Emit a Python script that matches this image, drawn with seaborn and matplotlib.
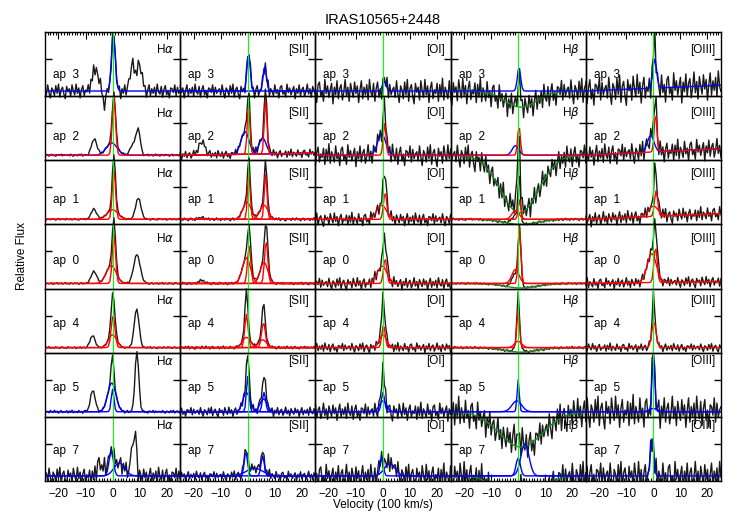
import numpy as np
import matplotlib
matplotlib.use('Agg')
import matplotlib.pyplot as plt
import seaborn as sns
from matplotlib.patches import Rectangle
from matplotlib.ticker import MultipleLocator

apertures = ['ap  3', 'ap  2', 'ap  1', 'ap  0', 'ap  4', 'ap  5', 'ap  7']
line_names = ['H$\\alpha$', '[SII]', '[OI]', 'H$\\beta$', '[OIII]']
velocity = np.arange(-25, 25.01, 0.5)

# fitted components per aperture: (colour, centre, sigma, amplitude), units of 100 km/s
fit_halpha = [
    [('b', 0.3, 0.7, 0.89)],
    [('b', -0.3, 2.0, 0.19), ('r', 0.5, 0.6, 0.92)],
    [('r', 0.0, 2.0, 0.15), ('r', 0.5, 0.6, 0.78)],
    [('r', -0.5, 1.8, 0.28), ('r', 0.5, 0.6, 0.78)],
    [('r', 0.0, 1.5, 0.2), ('r', 0.2, 0.7, 0.5)],
    [('b', -0.3, 1.5, 0.45), ('b', 0.0, 0.5, 0.35)],
    [('b', -0.5, 0.8, 0.39), ('b', 2.5, 2.0, 0.2)],
]
fit_sii = [
    [('b', 0.3, 0.6, 0.6), ('b', 6.3, 0.6, 0.4)],
    [('b', -1.0, 1.5, 0.35), ('b', 5.5, 1.3, 0.25), ('r', 0.3, 0.5, 0.77), ('r', 6.6, 0.5, 0.85)],
    [('r', -0.3, 1.5, 0.27), ('r', 6.0, 1.5, 0.22), ('r', 0.4, 0.5, 0.72), ('r', 6.6, 0.5, 0.72)],
    [('r', -0.5, 1.5, 0.4), ('r', 6.0, 1.4, 0.33), ('r', 0.5, 0.6, 0.58), ('r', 6.8, 0.6, 0.67)],
    [('r', -0.5, 1.5, 0.16), ('r', 5.5, 1.5, 0.12), ('r', -0.5, 0.6, 0.52), ('r', 5.8, 0.7, 0.39)],
    [('b', -0.5, 1.3, 0.3), ('b', 5.8, 1.3, 0.2), ('b', 0.0, 0.5, 0.55), ('b', 6.0, 0.6, 0.3)],
    [('b', 2.5, 3.0, 0.12), ('b', -0.7, 0.6, 0.37), ('b', 5.5, 0.6, 0.31)],
]
fit_oi = [
    [('b', 0.5, 0.7, 0.15)],
    [('b', -0.5, 1.5, 0.33), ('r', 0.6, 0.5, 0.5)],
    [('r', -0.5, 1.8, 0.22), ('r', 0.8, 0.6, 0.42)],
    [('r', -0.3, 1.8, 0.27), ('r', 0.8, 0.6, 0.39)],
    [('r', 0.0, 1.3, 0.2), ('r', 0.2, 0.6, 0.35)],
    [('b', 0.0, 1.3, 0.17), ('b', 0.0, 0.6, 0.3)],
    [('b', -0.5, 0.6, 0.3), ('b', 2.5, 2.0, 0.19)],
]
fit_hbeta = [
    [('g', 1.0, 6.0, -0.25), ('b', 0.3, 0.6, 0.37)],
    [('g', 0.5, 7.0, -0.9), ('b', -1.0, 1.2, 0.15), ('r', 0.3, 0.5, 0.45)],
    [('g', 1.0, 6.0, -0.08), ('r', -1.0, 1.3, 0.14), ('r', 0.5, 0.5, 0.3)],
    [('g', 1.0, 6.0, -0.07), ('r', -1.0, 1.3, 0.22), ('r', 0.5, 0.5, 0.87)],
    [('g', 1.0, 6.0, -0.07), ('r', 0.0, 1.3, 0.1), ('r', 0.0, 0.5, 0.6)],
    [('g', 1.0, 8.0, -0.55), ('b', -0.5, 1.8, 0.17), ('b', 0.0, 0.4, 0.5)],
    [('g', 0.5, 6.0, -0.9), ('b', 0.0, 0.8, 0.28), ('b', 2.5, 1.5, 0.5)],
]
fit_oiii = [
    [('b', 0.5, 0.7, 0.45)],
    [('b', -1.0, 1.2, 0.26), ('r', 0.8, 0.5, 0.6)],
    [('r', 0.0, 1.8, 0.16), ('r', 1.0, 0.6, 0.4)],
    [('r', -0.6, 1.7, 0.45), ('r', 0.8, 0.6, 0.55)],
    [('r', 0.2, 0.8, 0.4)],
    [('b', 0.0, 1.5, 0.05), ('b', 0.0, 0.5, 0.9)],
    [('b', -0.5, 0.6, 0.58)],
]

# features seen in the data but not in the fits: (centre, sigma, amplitude)
extra_halpha = [
    [(-6.3, 1.2, 0.34), (7.2, 0.8, 0.4), (9.8, 1.0, 0.42), (-3.0, 0.6, -0.2)],
    [(-6.8, 1.0, 0.25), (8.0, 1.2, 0.2), (9.6, 0.7, 0.33), (0.5, 0.6, -0.12)],
    [(-6.9, 1.0, 0.16), (9.5, 1.0, 0.33), (0.5, 0.5, 0.08)],
    [(-6.9, 1.0, 0.19), (9.0, 1.2, 0.45)],
    [(-7.4, 0.9, 0.19), (8.9, 0.9, 0.6), (0.0, 0.5, 0.16)],
    [(-7.3, 0.9, 0.33), (9.0, 0.7, 0.94), (0.0, 0.4, 0.1)],
    [(7.2, 0.4, 0.6), (8.5, 0.4, 0.75), (-5.0, 0.5, 0.3), (-3.0, 0.4, 0.25)],
]
extra_sii = [[], [(-17.0, 1.2, 0.2)], [(-17.0, 1.0, 0.03)], [(-17.0, 1.0, 0.05)],
             [(-0.5, 0.4, 0.25), (5.9, 0.4, 0.2)], [(0.0, 0.35, 0.1), (6.0, 0.35, 0.1)], []]
extra_oi = [[], [], [(0.3, 0.4, 0.2)], [(0.3, 0.4, 0.2)], [(0.0, 0.4, 0.3)], [(0.0, 0.4, 0.2)], []]
extra_hbeta = [[], [(0.3, 0.4, 0.8)], [(0.3, 0.35, 0.45)], [], [(0.0, 0.3, 0.25)],
               [(0.0, 0.6, -0.4)], [(1.5, 1.0, 0.3)]]
extra_oiii = [[(0.3, 0.4, 0.3)], [(0.5, 0.4, 0.2)], [(0.5, 0.4, 0.3)], [(0.3, 0.4, 0.1)],
              [(0.0, 0.3, 0.55)], [], []]

# noise amplitude (rows = apertures, cols = lines)
noise_level = [
    [0.12, 0.12, 0.20, 0.22, 0.25],
    [0.02, 0.07, 0.18, 0.20, 0.18],
    [0.015, 0.025, 0.11, 0.02, 0.12],
    [0.015, 0.02, 0.10, 0.015, 0.09],
    [0.015, 0.025, 0.08, 0.02, 0.07],
    [0.025, 0.08, 0.15, 0.25, 0.27],
    [0.15, 0.08, 0.20, 0.25, 0.25],
]
# continuum rise across the window
slope = [
    [0, 0, 0, 0, 0.09],
    [0, 0.03, 0, 0, 0.10],
    [0, 0, 0, 0, 0.09],
    [0, 0, 0, 0, 0.03],
    [0, 0, 0, 0, 0],
    [0, 0, 0, 0, 0],
    [0, 0, 0, 0, 0],
]
noise_pattern = [0.3, -0.5, 0.8, -0.2, -0.9, 0.4, 0.1, -0.6, 0.7, -0.3, 0.9, -0.8, 0.2, 0.5, -0.4,
                 -1.0, 0.6, -0.1, 0.3, -0.7, 0.8, 0.0, -0.5, 0.9, -0.3, 0.4, -0.9, 0.2, 0.7, -0.6,
                 0.1, -0.2, 0.6, -0.8, 0.5, -0.4, 1.0, -0.7, 0.3, -0.1, -0.6, 0.8, -0.3, 0.2, -0.9,
                 0.5, 0.7, -0.4, 0.0, -0.8, 0.9, -0.2, 0.4, -0.5, 0.1, 0.6, -1.0, 0.3, -0.3, 0.8,
                 -0.6, 0.2, 0.5, -0.7, -0.1, 0.9, -0.4, 0.3, -0.8, 0.6, 0.0, -0.5, 0.7, -0.2, 0.4,
                 -0.9, 0.1, 0.8, -0.6, 0.3, -0.3, 0.5, -0.7, 0.9, -0.1, -0.4, 0.6, -0.8, 0.2, 0.7,
                 -0.5, 0.1, -0.9, 0.4, 0.3, -0.2, 0.8, -0.6, 0.5, -0.3, 0.1]

fits = [fit_halpha, fit_sii, fit_oi, fit_hbeta, fit_oiii]
extras = [extra_halpha, extra_sii, extra_oi, extra_hbeta, extra_oiii]
colours = {'b': '#0000ff', 'r': '#ff0000', 'g': '#1e8c1e'}
label_y = [0.33, 0.36, 0.38, 0.43, 0.44, 0.45, 0.47]
name_y = [0.72, 0.73, 0.79, 0.78, 0.81, 0.87, 0.86]


def gauss(x, c, s, a):
    return a * np.exp(-0.5 * ((x - c) / s) ** 2)


sns.set_theme(style='ticks')
plt.rcParams['font.family'] = ['Liberation Sans', 'DejaVu Sans']
plt.rcParams.update({'axes.linewidth': 1.0, 'text.color': 'black', 'axes.edgecolor': 'black',
                     'xtick.color': 'black', 'ytick.color': 'black', 'axes.labelcolor': 'black'})

L, R, B, T = 0.0602, 0.9652, 0.0803, 0.9388
fig, axes = plt.subplots(7, 5, sharex=True, sharey=True, figsize=(7.47, 5.23), dpi=100)
fig.subplots_adjust(left=L, right=R, bottom=B, top=T, wspace=0, hspace=0)

for r in range(7):
    for c in range(5):
        ax = axes[r, c]
        ax.set_facecolor('none')
        base = slope[r][c] * (velocity + 25) / 50.0
        flux = base.copy()
        for comp in fits[c][r]:
            flux += gauss(velocity, *comp[1:])
        for ex in extras[c][r]:
            flux += gauss(velocity, *ex)
        flux += noise_level[r][c] * np.roll(noise_pattern, 17 * r + 29 * c)
        sns.lineplot(x=velocity, y=flux, ax=ax, color='k', lw=1.0,
                     estimator=None, sort=False, legend=False)
        for comp in fits[c][r]:
            sns.lineplot(x=velocity, y=base + gauss(velocity, *comp[1:]), ax=ax,
                         color=colours[comp[0]], lw=1.0, estimator=None, sort=False, legend=False)
        ax.axvline(0, color='#00ff00', lw=0.8)

        ax.text(0.06, label_y[r], apertures[r], transform=ax.transAxes, fontsize=8.5, va='center')
        ax.text(0.955, name_y[r], line_names[c], transform=ax.transAxes, fontsize=8.5,
                va='center', ha='right')

        ax.set_xlim(-25, 25)
        ax.set_ylim(-0.08, 0.92)
        ax.set_yticks([0.5])
        ax.xaxis.set_major_locator(MultipleLocator(10))
        ax.xaxis.set_minor_locator(MultipleLocator(1))
        ax.tick_params(axis='y', which='both', direction='in', left=True, right=True,
                       labelleft=False, length=5, width=1)
        ax.tick_params(axis='x', which='both', direction='in', top=(r == 0), bottom=(r == 6),
                       labelsize=8.5, pad=5, width=0.8)
        ax.tick_params(axis='x', which='major', length=5)
        ax.tick_params(axis='x', which='minor', length=2.5)
        ax.set_xlabel('')
        ax.set_ylabel('')

# let spectra spill into neighbouring rows but stay inside the grid
rect = Rectangle((L, B), R - L, T - B, transform=fig.transFigure)
for ax in axes.flat:
    for ln in ax.lines:
        ln.set_clip_path(rect)

fig.text((L + R) / 2, 0.962, 'IRAS10565+2448', ha='center', va='center', fontsize=10.5)
fig.text((L + R) / 2, 0.034, 'Velocity (100 km/s)', ha='center', va='center', fontsize=8.5)
fig.text(0.03, 0.51, 'Relative Flux', rotation=90, ha='center', va='center', fontsize=8.5)

fig.savefig('out.png', dpi=100)
